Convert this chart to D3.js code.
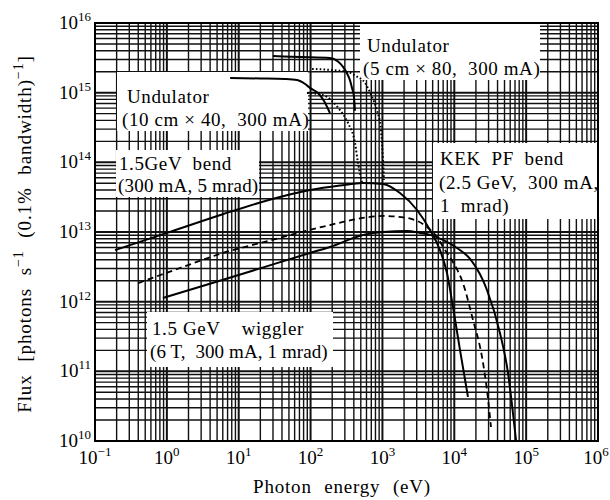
<!DOCTYPE html>
<html><head><meta charset="utf-8">
<script src="https://cdn.jsdelivr.net/npm/d3@7"></script>
<style>
html,body{margin:0;padding:0;background:#fff;}
text{font-family:"Liberation Serif","Times New Roman",serif;fill:#000;}
</style></head>
<body><svg id="c" width="610" height="500"></svg>
<script>
// ---- data ----
const xTickExps = [-1, 0, 1, 2, 3, 4, 5, 6];
const yTickExps = [10, 11, 12, 13, 14, 15, 16];

const und10E = [7.6, 20, 44, 65, 84, 98, 127, 154, 186];
const und10F = [1.62e15, 1.6e15, 1.57e15, 1.52e15, 1.33e15, 1.17e15, 9.9e14, 7.6e14, 5.1e14];

const und5E = [30, 71, 186, 241, 283, 321, 354, 377, 402, 415];
const und5F = [3.35e15, 3.25e15, 3.15e15, 2.8e15, 2.35e15, 1.9e15, 1.5e15, 1.17e15, 8.7e14, 5.5e14];

const dot10E = [89, 126, 169, 212, 257, 332, 415, 457, 520];
const dot10F = [9.9e14, 9.6e14, 8.7e14, 7.1e14, 5.6e14, 3.67e14, 1.9e14, 9.8e13, 5.05e13];

const dot5E = [105, 186, 332, 429, 572, 716, 840, 955, 1018, 1052];
const dot5F = [2.19e15, 2.12e15, 1.98e15, 1.73e15, 1.38e15, 8.7e14, 5.6e14, 2.9e14, 1.08e14, 5.6e13];

const bendE = [0.19, 1.0, 6.0, 27, 98, 257, 536, 1018, 1755, 3030, 4590, 6320, 7910, 9590, 12000, 15500];
const bendF = [5.5e12, 9.7e12, 1.8e13, 2.9e13, 4.0e13, 4.65e13, 5.05e13, 4.9e13, 3.63e13, 2.07e13, 1.07e13, 5.5e12, 2.58e12, 8.4e11, 2.03e11, 4.3e10];

const kekE = [0.40, 1.52, 6.04, 27.2, 98, 186, 536, 1018, 2200, 4170, 5740, 7430, 9590, 13200, 18200, 24300, 28500, 32400];
const kekF = [1.85e12, 3.04e12, 5.0e12, 7.55e12, 1.07e13, 1.26e13, 1.59e13, 1.70e13, 1.59e13, 1.18e13, 8.5e12, 5.5e12, 3.7e12, 1.85e12, 5.46e11, 1.61e11, 5.4e10, 1.59e10];

const wigE = [0.88, 2.89, 14.4, 98, 186, 536, 1018, 2200, 3330, 4590, 6960, 10900, 16600, 28500, 43200, 55900, 65600, 72500];
const wigF = [1.13e12, 1.64e12, 2.71e12, 5.0e12, 6.1e12, 9.06e12, 1.0e13, 1.03e13, 9.7e12, 9.1e12, 7.7e12, 5.9e12, 4.1e12, 1.47e12, 3.55e11, 9.5e10, 2.5e10, 1.0e10];

// ---- layout ----
const L = 95, R = 598, T = 23, B = 441;
const FS = 19, LS = 0.6;
const svg = d3.select("#c");
const x = d3.scaleLog().domain([1e-1, 1e6]).range([L, R]);
const y = d3.scaleLog().domain([1e10, 1e16]).range([B, T]);

// grid
const g = svg.append("g");
const xGrid = [], yGrid = [];
for (let e = -1; e < 6; e++) for (let m = 1; m <= 9; m++) xGrid.push(m * Math.pow(10, e));
for (let e = 10; e < 16; e++) for (let m = 1; m <= 9; m++) yGrid.push(m * Math.pow(10, e));
g.selectAll(".vx").data(xGrid).join("line")
  .attr("x1", d => x(d)).attr("x2", d => x(d)).attr("y1", T).attr("y2", B)
  .attr("stroke", "#111").attr("stroke-width", (d, i) => i % 9 === 0 ? 2 : 1.4);
g.selectAll(".hy").data(yGrid).join("line")
  .attr("y1", d => y(d)).attr("y2", d => y(d)).attr("x1", L).attr("x2", R)
  .attr("stroke", "#111").attr("stroke-width", (d, i) => i % 9 === 0 ? 2 : 1.4);

// annotation backgrounds
const boxes = [
  [360, 23, 540, 80],
  [117, 72, 308, 131],
  [116, 150, 259, 197],
  [433, 143, 598, 219],
  [147, 312, 333, 367]
];
svg.selectAll(".bx").data(boxes).join("rect")
  .attr("x", d => d[0]).attr("y", d => d[1])
  .attr("width", d => d[2] - d[0]).attr("height", d => d[3] - d[1])
  .attr("fill", "#fff");

// frame
svg.append("rect").attr("x", L).attr("y", T).attr("width", R - L).attr("height", B - T)
  .attr("fill", "none").attr("stroke", "#000").attr("stroke-width", 2);

// curves
const line = d3.line().x(d => x(d[0])).y(d => y(d[1])).curve(d3.curveMonotoneX);
const zip = (a, b) => a.map((v, i) => [v, b[i]]);
const series = [
  {d: zip(und10E, und10F), dash: null, w: 2},
  {d: zip(und5E, und5F), dash: null, w: 2},
  {d: zip(dot10E, dot10F), dash: "1.6,2.2", w: 2},
  {d: zip(dot5E, dot5F), dash: "1.6,2.2", w: 2},
  {d: zip(bendE, bendF), dash: null, w: 2},
  {d: zip(kekE, kekF), dash: "6,4", w: 1.8},
  {d: zip(wigE, wigF), dash: null, w: 2}
];
svg.selectAll(".cv").data(series).join("path")
  .attr("d", s => line(s.d)).attr("fill", "none").attr("stroke", "#000")
  .attr("stroke-width", s => s.w).attr("stroke-dasharray", s => s.dash);

// tick labels
xTickExps.forEach(e => {
  const t = svg.append("text").attr("x", Math.min(x(Math.pow(10, e)), 596)).attr("y", 464)
    .attr("text-anchor", "middle").attr("font-size", FS);
  t.append("tspan").text("10");
  t.append("tspan").attr("dy", -8).attr("font-size", 13).text(e < 0 ? "\u2212" + (-e) : String(e));
});
yTickExps.forEach(e => {
  const t = svg.append("text").attr("x", 91).attr("y", y(Math.pow(10, e)) + 6)
    .attr("text-anchor", "end").attr("font-size", FS);
  t.append("tspan").text("10");
  t.append("tspan").attr("dy", -8).attr("font-size", 13).text(String(e));
});

// axis titles
svg.append("text").attr("x", 342).attr("y", 493).attr("text-anchor", "middle")
  .attr("font-size", FS).attr("letter-spacing", 0.8).attr("word-spacing", 7)
  .text("Photon energy (eV)");
const yt = svg.append("text").attr("transform", "translate(31,234) rotate(-90)")
  .attr("text-anchor", "middle").attr("font-size", FS)
  .attr("letter-spacing", 0.9).attr("word-spacing", 7);
yt.append("tspan").text("Flux [photons s");
yt.append("tspan").attr("dy", -8).attr("font-size", 14).text("\u22121");
yt.append("tspan").attr("dy", 8).text(" (0.1% bandwidth)");
yt.append("tspan").attr("dy", -8).attr("font-size", 14).text("\u22121");
yt.append("tspan").attr("dy", 8).text("]");

// annotations
const notes = [
  [367, 52, "Undulator", LS],
  [363, 75, "(5 cm \u00d7 80,  300 mA)", LS],
  [127, 103, "Undulator", LS],
  [122, 126, "(10 cm \u00d7 40,  300 mA)", LS],
  [119, 170, "1.5GeV  bend", LS],
  [118, 192, "(300 mA, 5 mrad)", 0.2],
  [440, 165, "KEK  PF  bend", LS],
  [439, 189, "(2.5 GeV,  300 mA,", LS],
  [440, 212, "1  mrad)", LS],
  [152, 335, "1.5 GeV    wiggler", LS],
  [150, 358, "(6 T,  300 mA, 1 mrad)", 0.1]
];
svg.selectAll(".nt").data(notes).join("text")
  .attr("x", d => d[0]).attr("y", d => d[1]).attr("font-size", FS)
  .attr("letter-spacing", d => d[3])
  .style("white-space", "pre").text(d => d[2]);
</script></body></html>
